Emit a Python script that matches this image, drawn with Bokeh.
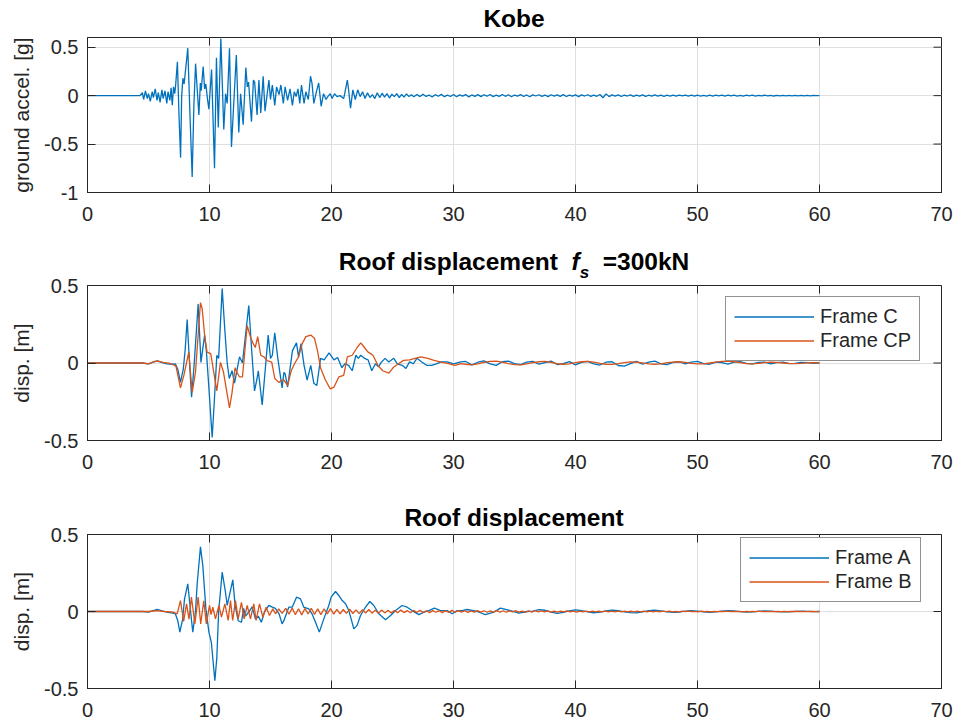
import numpy as np
from bokeh.plotting import figure
from bokeh.layouts import column
from bokeh.models import Range1d, FixedTicker, Div
from bokeh.embed import file_html
from bokeh.resources import INLINE

# ---------------- data ----------------
X_TICKS = [0, 10, 20, 30, 40, 50, 60, 70]
ACC_TICKS = [-1, -0.5, 0, 0.5]
ACC_TICK_LABELS = ["-1", "-0.5", "0", "0.5"]
DISP_TICKS = [-0.5, 0, 0.5]
DISP_TICK_LABELS = ["-0.5", "0", "0.5"]

# Kobe ground acceleration [g]: (time, value)
ACC_MAIN = [
    (0.0, 0.0), (4.3, 0.0), (4.5, 0.03), (4.6, -0.04), (4.75, 0.05), (4.9, -0.03), (5.0, 0.02),
    (5.15, -0.06), (5.3, 0.04), (5.4, -0.02), (5.55, 0.07), (5.7, -0.05), (5.8, 0.03), (5.95, -0.07),
    (6.1, 0.06), (6.2, -0.03), (6.35, 0.05), (6.5, -0.08), (6.6, 0.04), (6.75, -0.05), (6.85, 0.08),
    (6.95, -0.1), (7.05, 0.09), (7.15, 0.02), (7.22, 0.1), (7.37, 0.35), (7.5, -0.2), (7.63, -0.64),
    (7.72, 0.0), (7.82, 0.18), (7.92, 0.12), (8.22, 0.49), (8.4, -0.2), (8.58, -0.84), (8.72, -0.1),
    (8.86, 0.33), (9.0, 0.05), (9.13, -0.2), (9.25, 0.13), (9.32, 0.05), (9.48, 0.30), (9.6, 0.07),
    (9.7, 0.12), (9.82, -0.02), (9.95, -0.14), (10.17, 0.27), (10.41, -0.75), (10.57, 0.39),
    (10.72, -0.33), (10.93, 0.59), (11.17, -0.35), (11.32, 0.02), (11.45, -0.08), (11.64, 0.49),
    (11.8, -0.53), (11.98, -0.1), (12.2, 0.42), (12.4, -0.38), (12.55, 0.02), (12.76, -0.30),
    (12.98, 0.29), (13.1, 0.09), (13.2, 0.14), (13.44, -0.27), (13.6, 0.16), (13.7, 0.14),
    (13.9, -0.2), (14.05, 0.16), (14.2, -0.18), (14.4, 0.2), (14.55, -0.16), (14.87, 0.16),
    (15.0, -0.04), (15.15, 0.11), (15.35, -0.1), (15.5, 0.09), (15.7, 0.01), (15.85, 0.11),
    (16.05, -0.08), (16.2, 0.09), (16.4, -0.05), (16.6, 0.07), (16.8, -0.1), (16.95, 0.04),
    (17.1, -0.01), (17.25, 0.07), (17.4, -0.08), (17.54, 0.11), (17.75, -0.08), (17.9, 0.04),
    (18.1, -0.04), (18.28, 0.2), (18.4, 0.13), (18.55, -0.08), (18.8, 0.06), (18.95, 0.13),
    (19.15, -0.11), (19.35, 0.02), (19.55, -0.04), (19.7, -0.01), (19.9, 0.02), (20.05, -0.03),
    (20.25, 0.02), (20.45, -0.01), (20.7, 0.0), (21.0, -0.03), (21.3, 0.16), (21.42, 0.04),
    (21.56, -0.13), (21.75, 0.06), (21.95, -0.04), (22.15, 0.06), (22.35, -0.01), (22.55, 0.04),
    (22.75, -0.03), (22.95, 0.03), (23.15, -0.02), (23.35, 0.01), (23.55, -0.03), (23.75, 0.03),
    (23.95, -0.02), (24.15, 0.025), (24.35, -0.015), (24.55, 0.02), (24.75, -0.025), (24.95, 0.015),
    (25.15, -0.01), (25.35, 0.02), (25.55, -0.02), (25.75, 0.012), (25.95, -0.015), (26.15, 0.018),
    (26.35, -0.01), (26.55, 0.01), (26.75, -0.012),
]
ACC_TAIL_START, ACC_TAIL_END = 27.0, 60.0
ACC_TAIL = [
    0.012, -0.01, 0.015, -0.008, 0.006, -0.014, 0.01, -0.006, 0.013, -0.011, 0.005, -0.009, 0.012,
    -0.012, 0.008, -0.005, 0.011, -0.013, 0.007, -0.008, 0.01,
    -0.01, 0.009, -0.006, 0.012, -0.01, 0.005, -0.008, 0.011, -0.007, 0.009, -0.012, 0.006, -0.005,
    0.01, -0.009, 0.007, -0.011, 0.008, -0.004, 0.009,
    -0.008, 0.006, -0.01, 0.009, -0.005, 0.008, -0.007, 0.01, -0.009, 0.005, -0.006, 0.008, -0.01,
    0.007, -0.004, 0.009, -0.008, 0.006, -0.007, 0.012,
    -0.022, 0.018, -0.01, 0.008, -0.006, 0.007, -0.009, 0.005, -0.004, 0.008, -0.007, 0.006, -0.005,
    0.007, -0.008, 0.004, -0.006, 0.007, -0.005, 0.006,
    -0.007, 0.005, -0.004, 0.006, -0.006, 0.005, -0.003, 0.006, -0.005, 0.004, -0.006, 0.005, -0.004,
    0.003, -0.005, 0.006, -0.004, 0.005, -0.003, 0.004,
    -0.005, 0.004, -0.003, 0.005, -0.004, 0.003, -0.005, 0.004, -0.003, 0.004, -0.004, 0.003, -0.002,
    0.004, -0.003, 0.003, -0.004, 0.002, -0.003, 0.003,
    -0.003, 0.002, -0.003, 0.003, -0.002, 0.002, -0.003, 0.002, -0.002, 0.002, -0.001, 0.0,
]

# Roof displacement, f_s = 300 kN [m]
C_MAIN = [
    (0.0, 0.0), (4.5, 0.0), (5.0, -0.005), (5.4, 0.005), (5.71, 0.013), (6.0, 0.005), (6.5, -0.005),
    (7.0, -0.008), (7.2, -0.005), (7.4, -0.04), (7.62, -0.125), (7.85, -0.04), (8.0, 0.08),
    (8.17, 0.28), (8.3, 0.09), (8.53, -0.22), (8.75, 0.0), (9.07, 0.38), (9.3, 0.004), (9.6, 0.18),
    (9.75, 0.07), (9.88, -0.08), (10.22, -0.48), (10.4, -0.24), (10.6, 0.05), (10.75, 0.03),
    (11.04, 0.48), (11.25, 0.22), (11.45, 0.0), (11.62, -0.10), (11.85, -0.05), (12.05, -0.13),
    (12.46, 0.04), (12.7, 0.0), (13.22, 0.37), (13.45, 0.09), (13.69, -0.18), (13.9, -0.10),
    (14.0, -0.05), (14.32, -0.27), (14.55, -0.06), (14.81, 0.18), (15.0, 0.03), (15.15, 0.05),
    (15.35, 0.195), (15.6, 0.03), (15.95, -0.16), (16.1, -0.06), (16.2, -0.07), (16.4, -0.155),
    (16.8, 0.08), (17.13, 0.13), (17.3, 0.04), (17.5, 0.125), (17.75, -0.015), (18.0, -0.11),
    (18.3, -0.015), (18.55, -0.13), (18.8, -0.145), (19.1, 0.03), (19.4, 0.02), (19.8, 0.065),
    (20.2, 0.02), (20.5, 0.035), (20.85, -0.03), (21.1, -0.005), (21.4, -0.015), (21.7, -0.05),
    (22.0, 0.05), (22.2, 0.03), (22.4, 0.05), (22.7, 0.03), (23.0, 0.02), (23.3, -0.05),
    (23.6, -0.005), (23.85, -0.025), (24.1, 0.007), (24.4, 0.03), (24.7, 0.007), (25.1, 0.03),
    (25.4, -0.005), (25.8, -0.015), (26.1, -0.035), (26.4, 0.007), (26.7, -0.005), (27.0, 0.03),
    (27.4, 0.007), (27.8, -0.015), (28.2, -0.015), (28.6, -0.005), (29.0, 0.007), (29.5, 0.007),
    (30.0, -0.005), (30.6, 0.007),
]
C_TAIL_START, C_TAIL_END = 31.0, 60.0
C_TAIL = [
    0.01, -0.012, 0.005, 0.014, -0.006, -0.015, 0.008, 0.012, -0.004, -0.01, 0.006, 0.011, -0.008,
    0.003, 0.012, -0.01, -0.004, 0.009, -0.012, 0.004, 0.01, -0.006, -0.013, 0.005, 0.008, -0.016,
    -0.02, -0.004, 0.01, -0.008, 0.006, 0.012, -0.005, -0.01, 0.004, 0.008, -0.006, 0.005, 0.01,
    -0.004, -0.008, 0.006, 0.003, -0.007, 0.005, 0.009, -0.003, -0.006, 0.004, 0.006, -0.005, 0.002,
    0.006, -0.004, -0.003, 0.004, 0.002, -0.002, 0.0,
]
CP_MAIN = [
    (0.0, 0.0), (4.5, 0.0), (5.0, -0.005), (5.5, 0.01), (5.8, 0.012), (6.2, 0.004), (6.8, -0.003),
    (7.25, -0.02), (7.62, -0.16), (7.9, -0.08), (8.3, 0.07), (8.58, -0.19), (8.85, -0.06),
    (9.26, 0.39), (9.4, 0.35), (9.6, 0.18), (9.8, 0.07), (10.1, 0.06), (10.6, -0.18), (10.9, 0.004),
    (11.15, -0.06), (11.64, -0.29), (11.85, -0.19), (12.1, -0.03), (12.25, -0.06), (12.46, -0.09),
    (12.7, -0.09), (13.09, 0.24), (13.35, 0.17), (13.55, 0.13), (13.75, 0.10), (13.95, 0.17),
    (14.2, 0.05), (14.45, 0.04), (14.73, 0.015), (15.1, 0.005), (15.35, -0.1), (15.68, -0.125),
    (15.95, -0.11), (16.1, -0.11), (16.4, -0.145), (16.7, -0.05), (17.0, 0.0), (17.3, 0.04),
    (17.6, 0.125), (17.9, 0.17), (18.3, 0.18), (18.6, 0.16), (18.85, 0.08), (19.1, -0.03),
    (19.5, -0.11), (19.9, -0.167), (20.2, -0.156), (20.6, -0.09), (21.0, -0.08), (21.3, 0.04),
    (21.7, 0.05), (22.1, 0.10), (22.4, 0.13), (22.7, 0.10), (23.0, 0.07), (23.4, 0.05),
    (23.8, -0.015), (24.2, -0.05), (24.7, -0.065), (25.1, -0.026), (25.5, -0.005), (25.9, 0.017),
    (26.4, 0.02), (27.3, 0.04), (27.9, 0.03), (28.4, 0.017), (29.0, 0.006), (29.6, -0.004),
    (30.1, -0.015), (30.6, -0.004),
]
CP_TAIL_START, CP_TAIL_END = 31.0, 60.0
CP_TAIL = [
    -0.008, -0.012, -0.006, 0.004, 0.01, 0.012, 0.006, -0.004, -0.01, -0.012, -0.006, 0.003, 0.008,
    0.01, 0.004, -0.004, -0.008, -0.006, 0.002, 0.008, 0.01, 0.005, -0.003, -0.008, -0.009, -0.004,
    0.003, 0.007, 0.006, 0.001, -0.005, -0.008, -0.005, 0.002, 0.006, 0.008, 0.004, -0.002, -0.006,
    -0.005, 0.0, 0.006, 0.01, 0.012, 0.008, 0.002, -0.004, -0.006, -0.003, 0.002, 0.005, 0.004, 0.0,
    -0.003, -0.004, -0.002, 0.001, 0.002, 0.0,
]

# Roof displacement [m], frames A and B
A_MAIN = [
    (0.0, 0.0), (4.5, 0.0), (5.0, -0.004), (5.4, 0.006), (5.71, 0.013), (6.1, 0.004), (6.6, -0.006),
    (7.0, -0.01), (7.2, -0.015), (7.4, -0.06), (7.57, -0.134), (7.8, -0.05), (7.95, 0.08),
    (8.22, 0.18), (8.45, 0.0), (8.63, -0.134), (8.85, 0.0), (9.0, 0.19), (9.26, 0.42), (9.45, 0.3),
    (9.7, 0.02), (9.95, -0.134), (10.15, -0.2), (10.44, -0.45), (10.6, -0.3), (10.75, 0.0),
    (11.04, 0.255), (11.3, 0.13), (11.45, 0.04), (11.62, 0.1), (11.91, 0.205), (12.1, 0.04),
    (12.35, -0.06), (12.62, -0.07), (12.8, 0.02), (12.95, -0.03), (13.2, -0.005), (13.5, 0.03),
    (13.77, -0.05), (14.0, -0.03), (14.25, -0.07), (14.5, -0.005), (14.86, 0.04), (15.1, 0.03),
    (15.4, 0.02), (15.7, -0.015), (15.95, -0.08), (16.1, -0.058), (16.5, 0.028), (16.78, 0.028),
    (17.13, 0.093), (17.46, 0.082), (17.73, 0.028), (18.14, 0.017), (18.4, -0.015), (18.69, -0.07),
    (19.0, -0.134), (19.37, -0.048), (19.78, 0.039), (19.97, 0.093), (20.33, 0.13), (20.6, 0.104),
    (20.88, 0.071), (21.15, 0.05), (21.42, 0.006), (21.61, -0.048), (21.83, -0.113), (22.1, -0.09),
    (22.38, -0.026), (22.79, 0.028), (23.14, 0.065), (23.47, 0.039), (23.88, -0.015),
    (24.43, -0.054), (24.84, -0.026), (25.25, 0.006), (25.79, 0.039), (26.2, 0.028), (26.61, 0.006),
    (27.16, -0.02), (27.57, -0.004), (27.98, 0.006), (28.44, 0.022), (28.93, 0.006), (29.48, 0.006),
    (29.89, -0.015), (30.3, 0.006), (30.71, 0.006), (31.12, 0.013), (31.94, 0.0), (32.62, -0.02),
    (33.3, -0.004), (33.85, 0.022), (34.67, 0.006), (35.36, -0.01), (36.04, 0.0),
]
A_TAIL_START, A_TAIL_END = 36.5, 60.0
A_TAIL = [
    0.003, 0.012, 0.008, -0.004, -0.012, -0.006, 0.004, 0.01, 0.006, -0.003, -0.008, -0.004, 0.004,
    0.009, 0.005, -0.002, -0.007, -0.009, -0.003, 0.005, 0.008, 0.004, -0.003, -0.006, -0.004, 0.002,
    0.006, 0.003, -0.002, -0.005, -0.003, 0.002, 0.005, 0.004, -0.001, -0.004, -0.003, 0.001, 0.004,
    0.003, -0.001, -0.003, -0.002, 0.001, 0.002, 0.001, -0.001, 0.0,
]
B_MAIN = [
    (0.0, 0.0), (5.0, 0.0), (5.7, 0.006), (6.3, 0.0), (7.0, -0.004), (7.35, -0.015), (7.62, 0.071),
    (7.88, -0.065), (8.12, 0.05), (8.32, -0.05), (8.52, 0.093), (8.8, -0.08), (9.07, 0.093),
    (9.28, -0.08), (9.53, 0.07), (9.74, -0.08), (10.0, 0.04), (10.13, -0.02), (10.27, 0.028),
    (10.49, -0.048), (10.77, 0.04), (10.98, -0.037), (11.26, 0.05), (11.53, -0.058), (11.72, 0.071),
    (11.9, -0.058), (12.13, 0.071), (12.35, -0.048), (12.62, 0.06), (12.84, -0.048), (13.09, 0.04),
    (13.36, -0.048), (13.63, 0.05), (13.82, -0.058), (14.1, 0.05), (14.37, -0.037), (14.64, 0.028),
    (14.92, -0.026), (15.19, 0.017), (15.41, -0.015), (15.68, 0.017), (15.95, -0.012),
]
B_TAIL_START, B_TAIL_END = 16.25, 60.0
B_TAIL = [
    0.02, -0.018, 0.022, -0.02, 0.018, -0.022, 0.02, -0.016,
    0.021, -0.019, 0.017, -0.02, 0.018, -0.015, 0.019, -0.017,
    0.014, -0.016, 0.013, -0.012, 0.015, -0.013, 0.011, -0.014,
    0.012, -0.01, 0.013, -0.011, 0.009, -0.012, 0.01, -0.009,
    0.008, -0.009, 0.007, -0.008, 0.009, -0.007, 0.006, -0.008,
    0.007, -0.006, 0.008, -0.007, 0.005, -0.007, 0.006, -0.005,
    0.006, -0.007, 0.005, -0.006, 0.007, -0.005, 0.006, -0.004,
    0.005, -0.006, 0.004, -0.005, 0.006, -0.004, 0.005, -0.005,
    0.004, -0.005, 0.006, -0.004, 0.005, -0.005, 0.004, -0.003,
    0.005, -0.004, 0.003, -0.005, 0.004, -0.004, 0.005, -0.003,
    0.004, -0.003, 0.004, -0.004, 0.003, -0.004, 0.003, -0.003,
    0.004, -0.003, 0.003, -0.004, 0.003, -0.002, 0.003, -0.003,
    0.003, -0.003, 0.002, -0.003, 0.003, -0.002, 0.003, -0.002,
    0.002, -0.003, 0.002, -0.002, 0.003, -0.002, 0.002, -0.002,
    0.002, -0.002, 0.003, -0.002, 0.002, -0.002, 0.002, -0.001,
    0.002, -0.002, 0.001, -0.002, 0.002, -0.001, 0.002, -0.001,
    0.001, -0.002, 0.002, -0.001, 0.001, -0.002, 0.001, -0.001,
    0.001, -0.001, 0.002, -0.001, 0.001, -0.001, 0.001, -0.002,
    0.001, -0.001, 0.001, -0.001, 0.002, -0.001, 0.001, -0.001,
    0.001, -0.001, 0.001, -0.001, 0.001, -0.001, 0.001, 0.0,
    0.001, -0.001, 0.0, -0.001, 0.001, 0.0, -0.001, 0.0,
]

BLUE = "#0072BD"
ORANGE = "#D95319"
AX = "#262626"
FONT = "Liberation Sans"
FRAME_W = 854
LEFT = 87


def series(main, tail, t0, t1):
    t = [p[0] for p in main] + list(np.linspace(t0, t1, len(tail)))
    v = [p[1] for p in main] + list(tail)
    return t, v


def title_div(html, height, pad_top, overlap):
    style = ("margin-left:%dpx;width:%dpx;text-align:center;white-space:nowrap;"
             "font-family:'%s';font-size:24.5px;font-weight:bold;line-height:1;color:black;"
             "padding-top:%dpx;" % (LEFT, FRAME_W, FONT, pad_top))
    return Div(text='<div style="%s">%s</div>' % (style, html), width=LEFT + FRAME_W,
               height=height, margin=(0, 0, -overlap, 0))


def make_fig(yr, yticks, ylabels, ylabel, frame_h, top, bottom):
    p = figure(frame_width=FRAME_W, frame_height=frame_h, x_range=Range1d(0, 70),
               y_range=Range1d(*yr), output_backend="svg", toolbar_location=None,
               min_border_left=LEFT, min_border_right=15, min_border_top=top,
               min_border_bottom=bottom, background_fill_color="white",
               border_fill_color=None, outline_line_color=AX, outline_line_width=1)
    for ax in (p.xaxis[0], p.yaxis[0]):
        ax.major_label_text_font = FONT
        ax.major_label_text_font_size = "20px"
        ax.major_label_text_color = AX
        ax.major_tick_in = 8
        ax.major_tick_out = 0
        ax.minor_tick_in = 0
        ax.minor_tick_out = 0
        ax.major_tick_line_color = AX
        ax.axis_line_color = AX
    p.xaxis.major_label_standoff = 14
    p.yaxis.major_label_standoff = 9
    p.xaxis.ticker = FixedTicker(ticks=X_TICKS)
    p.yaxis.ticker = FixedTicker(ticks=yticks)
    p.yaxis.major_label_overrides = {float(k): s for k, s in zip(yticks, ylabels)}
    p.yaxis.axis_label = ylabel
    p.yaxis.axis_label_text_font = FONT
    p.yaxis.axis_label_text_font_size = "21px"
    p.yaxis.axis_label_text_font_style = "normal"
    p.yaxis.axis_label_text_color = AX
    p.yaxis.axis_label_standoff = 8
    p.xgrid.ticker = FixedTicker(ticks=X_TICKS)
    p.ygrid.ticker = FixedTicker(ticks=yticks)
    p.xgrid.grid_line_color = "#dfdfdf"
    p.ygrid.grid_line_color = "#dfdfdf"
    # mirrored inward ticks on the top and right edges of the box (8 px long)
    y0, y1 = yr
    dy = 8 * (y1 - y0) / frame_h
    dx = 8 * 70 / FRAME_W
    p.segment(x0=X_TICKS, y0=[y1] * len(X_TICKS), x1=X_TICKS, y1=[y1 - dy] * len(X_TICKS),
              line_color=AX, line_width=1)
    p.segment(x0=[70] * len(yticks), y0=yticks, x1=[70 - dx] * len(yticks), y1=yticks,
              line_color=AX, line_width=1)
    return p


def style_legend(p, x, y):
    lg = p.legend[0]
    lg.location = (x, y)
    lg.label_text_font = FONT
    lg.label_text_font_size = "20px"
    lg.label_text_color = AX
    lg.glyph_width = 80
    lg.glyph_height = 23
    lg.label_height = 23
    lg.label_standoff = 6
    lg.padding = 8
    lg.spacing = 1
    lg.margin = 0
    lg.border_line_color = AX
    lg.border_line_width = 1
    lg.background_fill_alpha = 1.0


# ---- panel 1 ----
d1 = title_div("Kobe", 32, 7, 0)
p1 = make_fig((-1, 0.6), ACC_TICKS, ACC_TICK_LABELS, "ground accel. [g]", 155, 5, 40)
t, v = series(ACC_MAIN, ACC_TAIL, ACC_TAIL_START, ACC_TAIL_END)
p1.line(t, v, line_color=BLUE, line_width=1.3)

# ---- panel 2 ----
d2 = title_div("Roof displacement&nbsp;&nbsp;<i>f</i><span style=\"font-size:17px;"
               "vertical-align:-8px;line-height:0;\"><i>s</i></span>&nbsp;&nbsp;=300kN",
               53, 18, 14)
p2 = make_fig((-0.5, 0.5), DISP_TICKS, DISP_TICK_LABELS, "disp. [m]", 155, 14, 40)
t, v = series(C_MAIN, C_TAIL, C_TAIL_START, C_TAIL_END)
p2.line(t, v, line_color=BLUE, line_width=1.3, legend_label="Frame C")
t, v = series(CP_MAIN, CP_TAIL, CP_TAIL_START, CP_TAIL_END)
p2.line(t, v, line_color=ORANGE, line_width=1.3, legend_label="Frame CP")
style_legend(p2, 638, 79)

# ---- panel 3 ----
d3 = title_div("Roof displacement", 54, 26, 14)
p3 = make_fig((-0.5, 0.5), DISP_TICKS, DISP_TICK_LABELS, "disp. [m]", 154, 14, 36)
t, v = series(A_MAIN, A_TAIL, A_TAIL_START, A_TAIL_END)
p3.line(t, v, line_color=BLUE, line_width=1.3, legend_label="Frame A")
t, v = series(B_MAIN, B_TAIL, B_TAIL_START, B_TAIL_END)
p3.line(t, v, line_color=ORANGE, line_width=1.3, legend_label="Frame B")
style_legend(p3, 653, 86)

layout = column(d1, p1, d2, p2, d3, p3, spacing=0)
open("out.html", "w").write(file_html(layout, INLINE))
